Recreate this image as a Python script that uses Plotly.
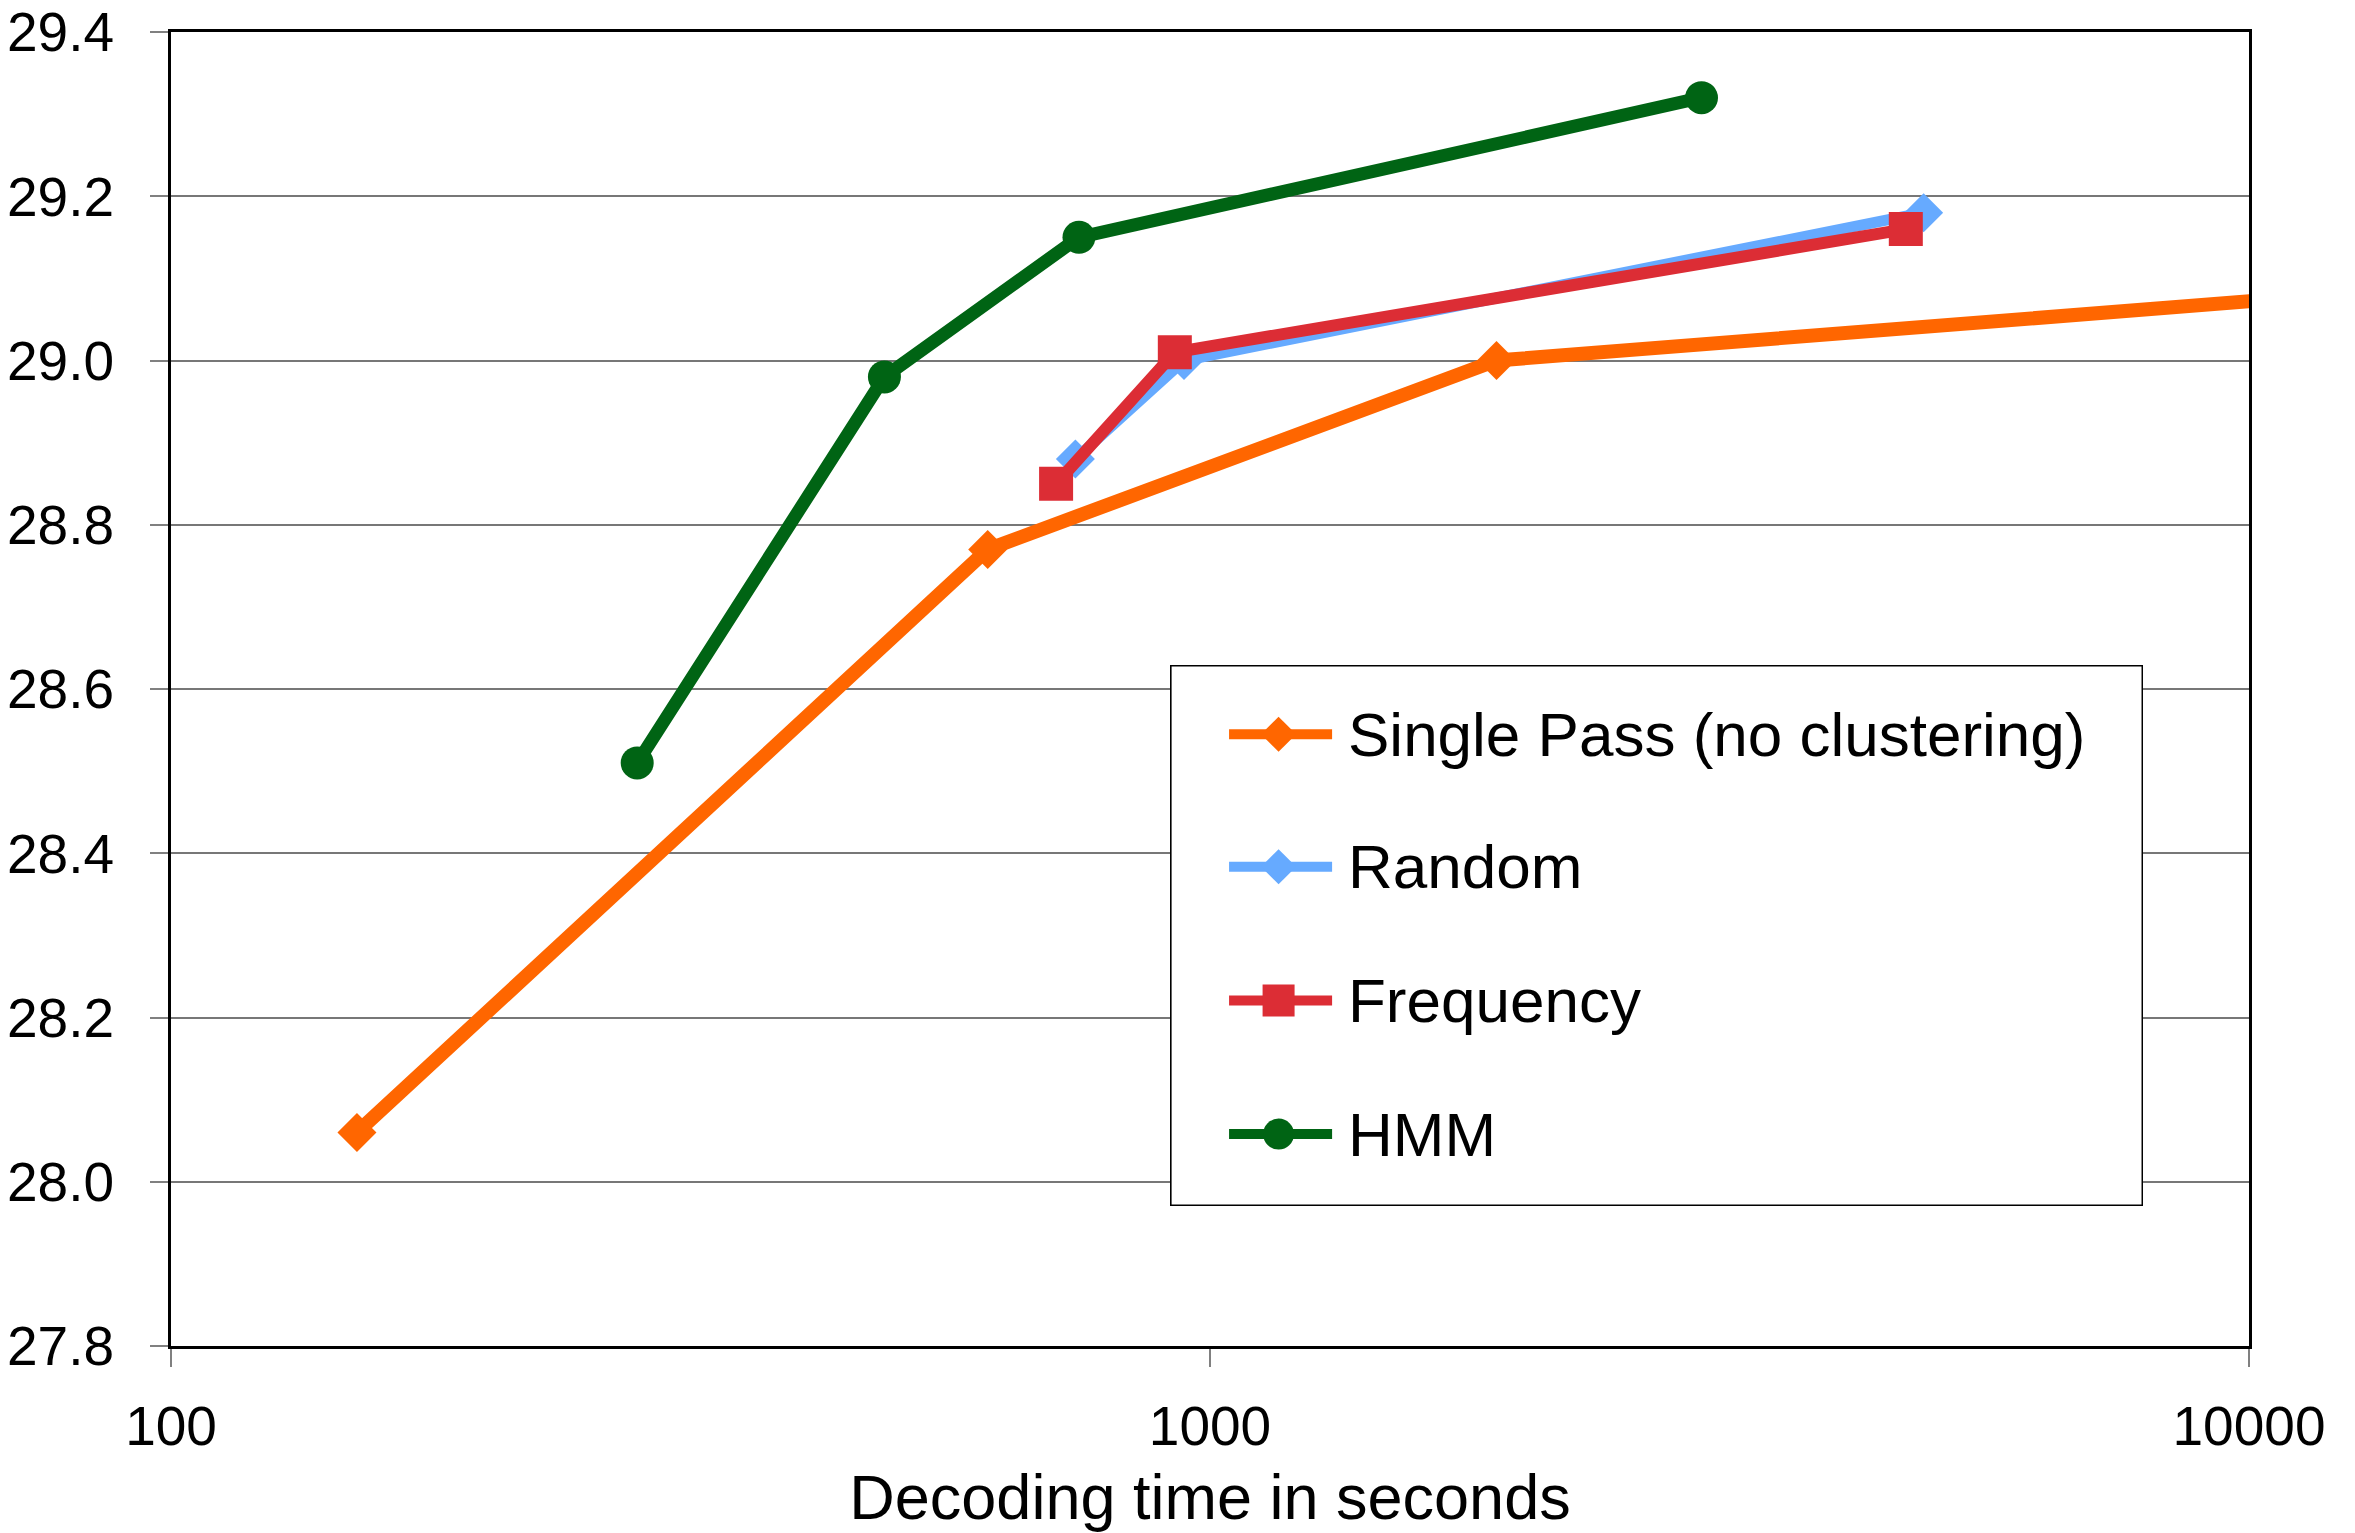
import plotly.graph_objects as go

# Decoding time (seconds) and score for each system
single_pass_time = [151, 611, 1887, 12000]
single_pass_score = [28.06, 28.77, 29.00, 29.08]

random_time = [742, 944, 4862]
random_score = [28.88, 29.00, 29.18]

frequency_time = [711, 925, 4674]
frequency_score = [28.85, 29.01, 29.16]

hmm_time = [281, 486, 748, 2972]
hmm_score = [28.51, 28.98, 29.15, 29.32]

series_names = ["Single Pass (no clustering)", "Random", "Frequency", "HMM"]

x_tick_values = [100, 1000, 10000]
x_tick_labels = ["100", "1000", "10000"]
x_title = "Decoding time in seconds"

# ---- styling -------------------------------------------------------------
FONT = "Liberation Sans, Arial, sans-serif"

series = [
    (single_pass_time, single_pass_score,
     dict(color="#FF6600", symbol="diamond", size=30, width=14, lsize=27)),
    (random_time, random_score,
     dict(color="#66AAFF", symbol="diamond", size=30, width=11, lsize=27)),
    (frequency_time, frequency_score,
     dict(color="#DC2D35", symbol="square", size=34, width=12, lsize=32)),
    (hmm_time, hmm_score,
     dict(color="#006414", symbol="circle", size=33, width=13, lsize=31)),
]

fig = go.Figure()

for (xs, ys, st), name in zip(series, series_names):
    fig.add_trace(go.Scatter(
        x=xs, y=ys, name=name, mode="lines+markers",
        line=dict(color=st["color"], width=st["width"]),
        marker=dict(color=st["color"], symbol=st["symbol"], size=st["size"],
                    opacity=1, line=dict(width=0)),
        showlegend=False, xaxis="x", yaxis="y",
    ))

# ---- legend drawn in its own small subplot ------------------------------
legend_rows = [0.872, 0.627, 0.380, 0.133]
key_line_x = [0.0606, 0.1665]
key_marker_x = 0.1115
text_x = 0.1808

for (xs, ys, st), name, row in zip(series, series_names, legend_rows):
    fig.add_trace(go.Scatter(
        x=key_line_x, y=[row, row], mode="lines",
        line=dict(color=st["color"], width=10),
        showlegend=False, hoverinfo="skip", xaxis="x2", yaxis="y2",
    ))
    fig.add_trace(go.Scatter(
        x=[key_marker_x], y=[row], mode="markers",
        marker=dict(color=st["color"], symbol=st["symbol"], size=st["lsize"],
                    opacity=1, line=dict(width=0)),
        showlegend=False, hoverinfo="skip", xaxis="x2", yaxis="y2",
    ))
    fig.add_annotation(
        x=text_x, y=row, xref="x2", yref="y2", text=name, showarrow=False,
        xanchor="left", yanchor="middle",
        font=dict(family=FONT, size=62, color="black"),
    )

fig.add_shape(
    type="rect", xref="x2", yref="y2", x0=0, x1=1, y0=0, y1=1,
    line=dict(color="black", width=3), fillcolor="white", layer="between",
)

fig.update_layout(
    width=2355, height=1533,
    margin=dict(l=171, r=106, t=32, b=187, pad=0, autoexpand=False),
    paper_bgcolor="white", plot_bgcolor="white",
    showlegend=False,
    font=dict(family=FONT, size=55, color="black"),
    xaxis=dict(
        type="log", range=[2, 4], domain=[0, 1], automargin=False,
        tickmode="array", tickvals=x_tick_values, ticktext=x_tick_labels,
        ticks="outside", ticklen=18, tickwidth=1.5, tickcolor="#808080",
        ticklabelstandoff=12, ticklabeloverflow="allow",
        showgrid=False, zeroline=False,
        showline=True, linecolor="black", linewidth=3, mirror=True,
        tickfont=dict(family=FONT, size=55, color="black"),
        title=dict(text=x_title, standoff=19,
                   font=dict(family=FONT, size=63, color="black")),
    ),
    yaxis=dict(
        range=[27.8, 29.4], dtick=0.2, tick0=27.8, tickformat=".1f",
        domain=[0, 1], automargin=False,
        ticks="outside", ticklen=18, tickwidth=1.5, tickcolor="#808080",
        ticklabelstandoff=25, ticklabeloverflow="allow",
        showgrid=True, gridcolor="#777777", gridwidth=1.5, zeroline=False,
        showline=True, linecolor="black", linewidth=3, mirror=True,
        tickfont=dict(family=FONT, size=55, color="black"),
    ),
    xaxis2=dict(
        domain=[0.4808, 0.9490], range=[0, 1], anchor="y2",
        visible=False, fixedrange=True, automargin=False,
    ),
    yaxis2=dict(
        domain=[0.1065, 0.5183], range=[0, 1], anchor="x2",
        visible=False, fixedrange=True, automargin=False,
    ),
)

fig.write_html("out.html")
